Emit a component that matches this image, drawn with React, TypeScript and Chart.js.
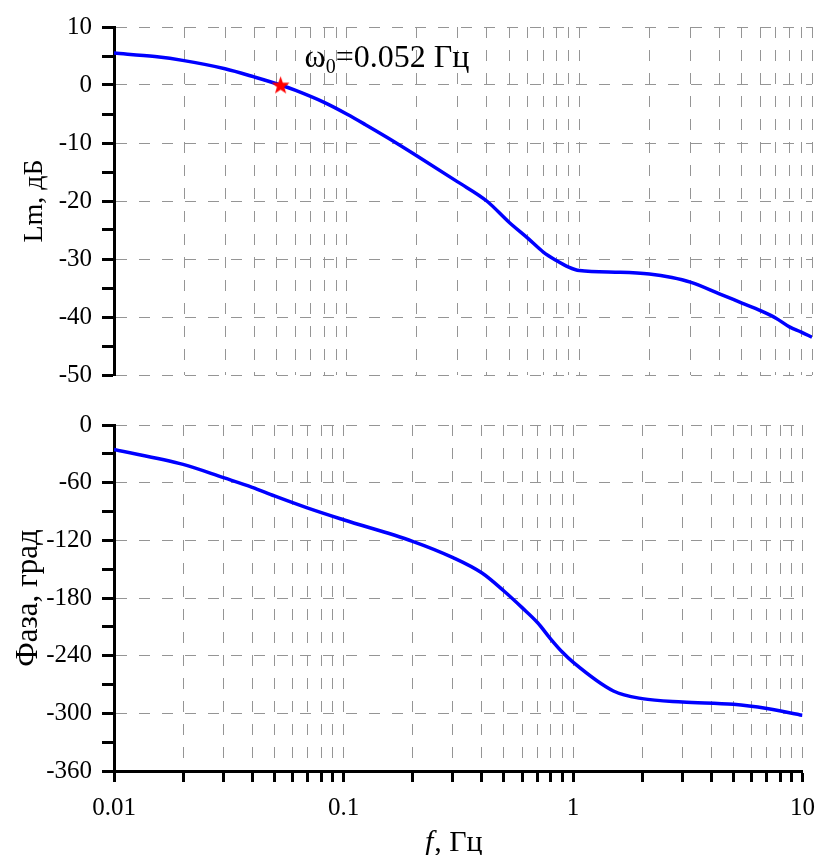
import React, { useEffect, useRef } from "react";
import { Chart, registerables } from "chart.js";
Chart.register(...registerables);

// ---------- data ----------
const magFreq = [0.01, 0.015, 0.02, 0.03, 0.04, 0.052, 0.06, 0.08, 0.1, 0.12, 0.15, 0.2, 0.3, 0.4, 0.5, 0.6, 0.7, 0.8, 0.9, 1, 1.5, 2, 2.5, 3, 4, 5, 6, 7, 8, 9, 10];
const magDb = [5.5, 4.9, 4.2, 2.8, 1.4, 0, -0.9, -3.0, -5.0, -6.8, -9.1, -12.2, -16.7, -20.0, -23.7, -26.4, -28.8, -30.3, -31.4, -32.0, -32.3, -32.6, -33.2, -34.0, -36.0, -37.6, -38.9, -40.2, -41.7, -42.6, -43.5];

const phaseFreq = [0.01, 0.02, 0.03, 0.04, 0.05, 0.07, 0.1, 0.2, 0.3, 0.4, 0.5, 0.6, 0.7, 0.8, 0.9, 1, 1.5, 2, 3, 5, 7, 10];
const phaseDeg = [-25.5, -41, -54.8, -64.8, -73.8, -86.5, -98.6, -121, -138, -153.8, -172.7, -190, -205.5, -222.7, -236.5, -246.8, -276.8, -284.7, -288.2, -290.6, -295, -302];

const starFreq = [0.052];
const starDb = [0];

const xTickValues = [0.01, 0.02, 0.03, 0.04, 0.05, 0.06, 0.07, 0.08, 0.09, 0.1, 0.2, 0.3, 0.4, 0.5, 0.6, 0.7, 0.8, 0.9, 1, 2, 3, 4, 5, 6, 7, 8, 9, 10];
const xLabelValues = [0.01, 0.1, 1, 10];

const magTicks = [10, 5, 0, -5, -10, -15, -20, -25, -30, -35, -40, -45, -50];
const magLabelStep = 10;
const phaseTicks = [0, -30, -60, -90, -120, -150, -180, -210, -240, -270, -300, -330, -360];
const phaseLabelStep = 60;

// ---------- style ----------
const FONT = "'Liberation Serif', 'Times New Roman', serif";
const GRID = "#959595";
const DASH = [11, 12];
const TICK_FONT = { family: FONT, size: 25 };

function makeStar(R: number, r: number, color: string): HTMLCanvasElement {
  const size = Math.ceil(R * 2) + 2;
  const c = document.createElement("canvas");
  c.width = size;
  c.height = size;
  const g = c.getContext("2d")!;
  g.beginPath();
  for (let i = 0; i < 10; i++) {
    const ang = -Math.PI / 2 + (i * Math.PI) / 5;
    const rad = i % 2 === 0 ? R : r;
    const px = size / 2 + rad * Math.cos(ang);
    const py = size / 2 + rad * Math.sin(ang) + 0.8;
    if (i === 0) g.moveTo(px, py);
    else g.lineTo(px, py);
  }
  g.closePath();
  g.fillStyle = color;
  g.fill();
  return c;
}

const toPts = (xs: number[], ys: number[]) => xs.map((x, i) => ({ x, y: ys[i] }));

function xScale(showTicks: boolean) {
  return {
    type: "logarithmic" as const,
    min: 0.01,
    max: 10,
    afterBuildTicks: (s: any) => {
      s.ticks = xTickValues.map((v) => ({ value: v }));
    },
    afterFit: (s: any) => {
      s.height = showTicks ? 84 : 0;
    },
    ticks: {
      display: showTicks,
      autoSkip: false,
      maxRotation: 0,
      padding: 11,
      color: "#000",
      font: TICK_FONT,
      callback: (v: any) => (xLabelValues.includes(Number(v)) ? String(v) : ""),
    },
    grid: {
      color: GRID,
      lineWidth: 1,
      drawTicks: showTicks,
      tickLength: 11,
      tickColor: "#000",
      tickWidth: 3,
    },
    border: { display: showTicks, color: "#000", width: 3, dash: DASH },
  };
}

function yScale(min: number, max: number, tickVals: number[], labelStep: number, title: string, titleSize: number, titlePad: number) {
  return {
    type: "linear" as const,
    min,
    max,
    afterBuildTicks: (s: any) => {
      s.ticks = tickVals.map((v) => ({ value: v }));
    },
    afterFit: (s: any) => {
      s.width = 114;
    },
    ticks: {
      autoSkip: false,
      padding: 10,
      color: "#000",
      font: TICK_FONT,
      callback: (v: any) => (Number(v) % labelStep === 0 ? String(v) : ""),
    },
    grid: {
      color: (ctx: any) => (ctx.tick && ctx.tick.value % labelStep === 0 ? GRID : "rgba(0,0,0,0)"),
      lineWidth: 1,
      drawTicks: true,
      tickLength: 12,
      tickColor: "#000",
      tickWidth: 3,
    },
    border: { display: true, color: "#000", width: 3, dash: DASH },
    title: {
      display: true,
      text: title,
      color: "#000",
      font: { family: FONT, size: titleSize },
      padding: { top: titlePad, bottom: 0 },
    },
  };
}

const annotationPlugin = {
  id: "omegaLabel",
  afterDatasetsDraw(chart: any) {
    const { ctx } = chart;
    const xs = chart.scales.x;
    const ys = chart.scales.y;
    const px = xs.getPixelForValue(starFreq[0]) + 24;
    const py = ys.getPixelForValue(starDb[0]) - 18;
    ctx.save();
    ctx.fillStyle = "#000";
    ctx.textBaseline = "alphabetic";
    ctx.textAlign = "left";
    ctx.font = `32px ${FONT}`;
    ctx.fillText("ω", px, py);
    const w1 = ctx.measureText("ω").width;
    ctx.font = `20px ${FONT}`;
    ctx.fillText("0", px + w1, py + 6);
    const w2 = ctx.measureText("0").width;
    ctx.font = `32px ${FONT}`;
    ctx.fillText("=" + starFreq[0] + " Гц", px + w1 + w2, py);
    ctx.restore();
  },
};

const xTitlePlugin = {
  id: "xTitle",
  afterDraw(chart: any) {
    const { ctx, chartArea } = chart;
    ctx.save();
    const italic = `italic 30px ${FONT}`;
    const normal = `30px ${FONT}`;
    ctx.font = italic;
    const w1 = ctx.measureText("f").width;
    ctx.font = normal;
    const w2 = ctx.measureText(", Гц").width;
    const cx = (chartArea.left + chartArea.right) / 2 - 5;
    const x = cx - (w1 + w2) / 2;
    const y = chart.height - 4;
    ctx.fillStyle = "#000";
    ctx.textBaseline = "alphabetic";
    ctx.textAlign = "left";
    ctx.font = italic;
    ctx.fillText("f", x, y);
    ctx.font = normal;
    ctx.fillText(", Гц", x + w1 + 1, y);
    ctx.restore();
  },
};

export default function App() {
  const topRef = useRef<HTMLCanvasElement>(null);
  const botRef = useRef<HTMLCanvasElement>(null);

  useEffect(() => {
    const star = makeStar(9.5, 3.9, "#ff0000");
    const top = new Chart(topRef.current!, {
      type: "line",
      data: {
        datasets: [
          {
            data: toPts(starFreq, starDb),
            pointStyle: star as any,
            pointRadius: 10,
            showLine: false,
            order: 0,
          },
          {
            data: toPts(magFreq, magDb),
            borderColor: "#0000ff",
            borderWidth: 3.5,
            pointRadius: 0,
            cubicInterpolationMode: "monotone",
            fill: false,
            order: 1,
          },
        ],
      },
      options: {
        animation: false,
        responsive: false,
        maintainAspectRatio: false,
        events: [],
        layout: { padding: { left: 0, right: 14, top: 27, bottom: 24 } },
        plugins: { legend: { display: false }, tooltip: { enabled: false } },
        scales: {
          x: xScale(false) as any,
          y: yScale(-50, 10, magTicks, magLabelStep, "Lm, дБ", 28, 18) as any,
        },
      },
      plugins: [annotationPlugin],
    });

    const bot = new Chart(botRef.current!, {
      type: "line",
      data: {
        datasets: [
          {
            data: toPts(phaseFreq, phaseDeg),
            borderColor: "#0000ff",
            borderWidth: 3.5,
            pointRadius: 0,
            cubicInterpolationMode: "monotone",
            fill: false,
          },
        ],
      },
      options: {
        animation: false,
        responsive: false,
        maintainAspectRatio: false,
        events: [],
        layout: { padding: { left: 0, right: 14, top: 23, bottom: 0 } },
        plugins: { legend: { display: false }, tooltip: { enabled: false } },
        scales: {
          x: xScale(true) as any,
          y: yScale(-360, 0, phaseTicks, phaseLabelStep, "Фаза, град", 31, 10) as any,
        },
      },
      plugins: [xTitlePlugin],
    });

    return () => {
      top.destroy();
      bot.destroy();
    };
  }, []);

  return (
    <div style={{ position: "absolute", left: 0, top: 0, width: 826, height: 855, background: "#fff", overflow: "hidden" }}>
      <canvas ref={topRef} width={826} height={400} style={{ position: "absolute", left: 0, top: 0, display: "block" }} />
      <canvas ref={botRef} width={826} height={455} style={{ position: "absolute", left: 0, top: 400, display: "block" }} />
    </div>
  );
}
